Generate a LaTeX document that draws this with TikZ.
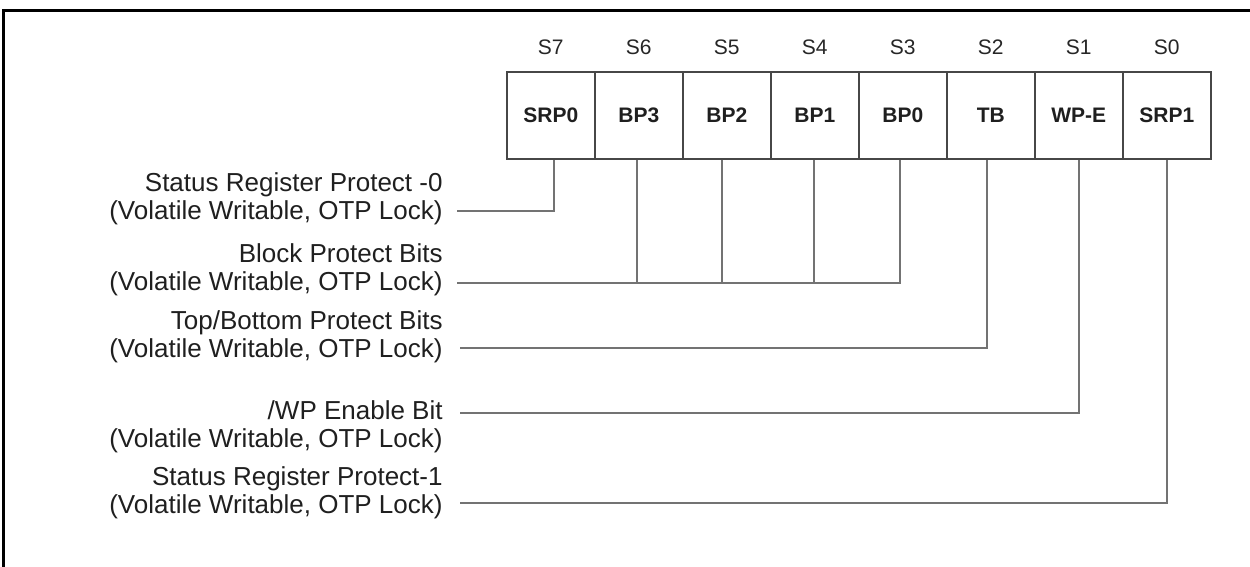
\documentclass[tikz,border=0pt]{standalone}
\usepackage{fontspec}
\setmainfont{Liberation Sans}
\begin{document}
\begin{tikzpicture}[x=0.5pt,y=-0.5pt,
  cell/.style={draw=black!72, line width=0.8pt, minimum width=44pt, minimum height=43.5pt,
    inner sep=0pt, anchor=north west, font=\bfseries\fontsize{10.5}{12}\selectfont, text=black!88},
  bitlbl/.style={font=\fontsize{10.5}{12}\selectfont, text=black!85, inner sep=0pt},
  desc/.style={align=right, anchor=east, font=\fontsize{13}{14}\selectfont, text=black!88, inner sep=0pt},
  conn/.style={draw=black!55, line width=0.7pt},
  frame/.style={draw=black, line width=1.5pt}]
\useasboundingbox (0,0) rectangle (1250,567);
\draw[frame] (1250,11) -- (3.3,11) -- (3.3,567);

% register cells
\node[cell] (c7) at (506,71) {SRP0};
\node[cell] (c6) at (594,71) {BP3};
\node[cell] (c5) at (682,71) {BP2};
\node[cell] (c4) at (770,71) {BP1};
\node[cell] (c3) at (858,71) {BP0};
\node[cell] (c2) at (946,71) {TB};
\node[cell] (c1) at (1034,71) {WP-E};
\node[cell] (c0) at (1122,71) {SRP1};

% bit labels
\foreach \i in {0,...,7} {
  \node[bitlbl] (s\i) at ([yshift=12pt]c\i.north) {S\i};
}

% descriptions
\node[desc] (d0) at (443,199) {Status Register Protect -0\\(Volatile Writable, OTP Lock)};
\node[desc] (d1) at (443,270) {Block Protect Bits\\(Volatile Writable, OTP Lock)};
\node[desc] (d2) at (443,337) {Top/Bottom Protect Bits\\(Volatile Writable, OTP Lock)};
\node[desc] (d3) at (443,427) {/WP Enable Bit\\(Volatile Writable, OTP Lock)};
\node[desc] (d4) at (443,493) {Status Register Protect-1\\(Volatile Writable, OTP Lock)};

% connector start points
\coordinate (l0) at (457,211);
\coordinate (l1) at (457,283);
\coordinate (l2) at (460,348);
\coordinate (l3) at (460,413);
\coordinate (l4) at (460,503);

% connectors
\draw[conn] (l0) -| ([xshift=1.5pt]c7.south);
\draw[conn] (l1) -| ([xshift=-1.5pt]c3.south);
\draw[conn] ([xshift=-1pt]c6.south) -- ([xshift=-1pt]c6.south |- l1);
\draw[conn] ([xshift=-2.5pt]c5.south) -- ([xshift=-2.5pt]c5.south |- l1);
\draw[conn] ([xshift=-0.5pt]c4.south) -- ([xshift=-0.5pt]c4.south |- l1);
\draw[conn] (l2) -| ([xshift=-2pt]c2.south);
\draw[conn] (l3) -| (c1.south);
\draw[conn] (l4) -| (c0.south);
\end{tikzpicture}
\end{document}
